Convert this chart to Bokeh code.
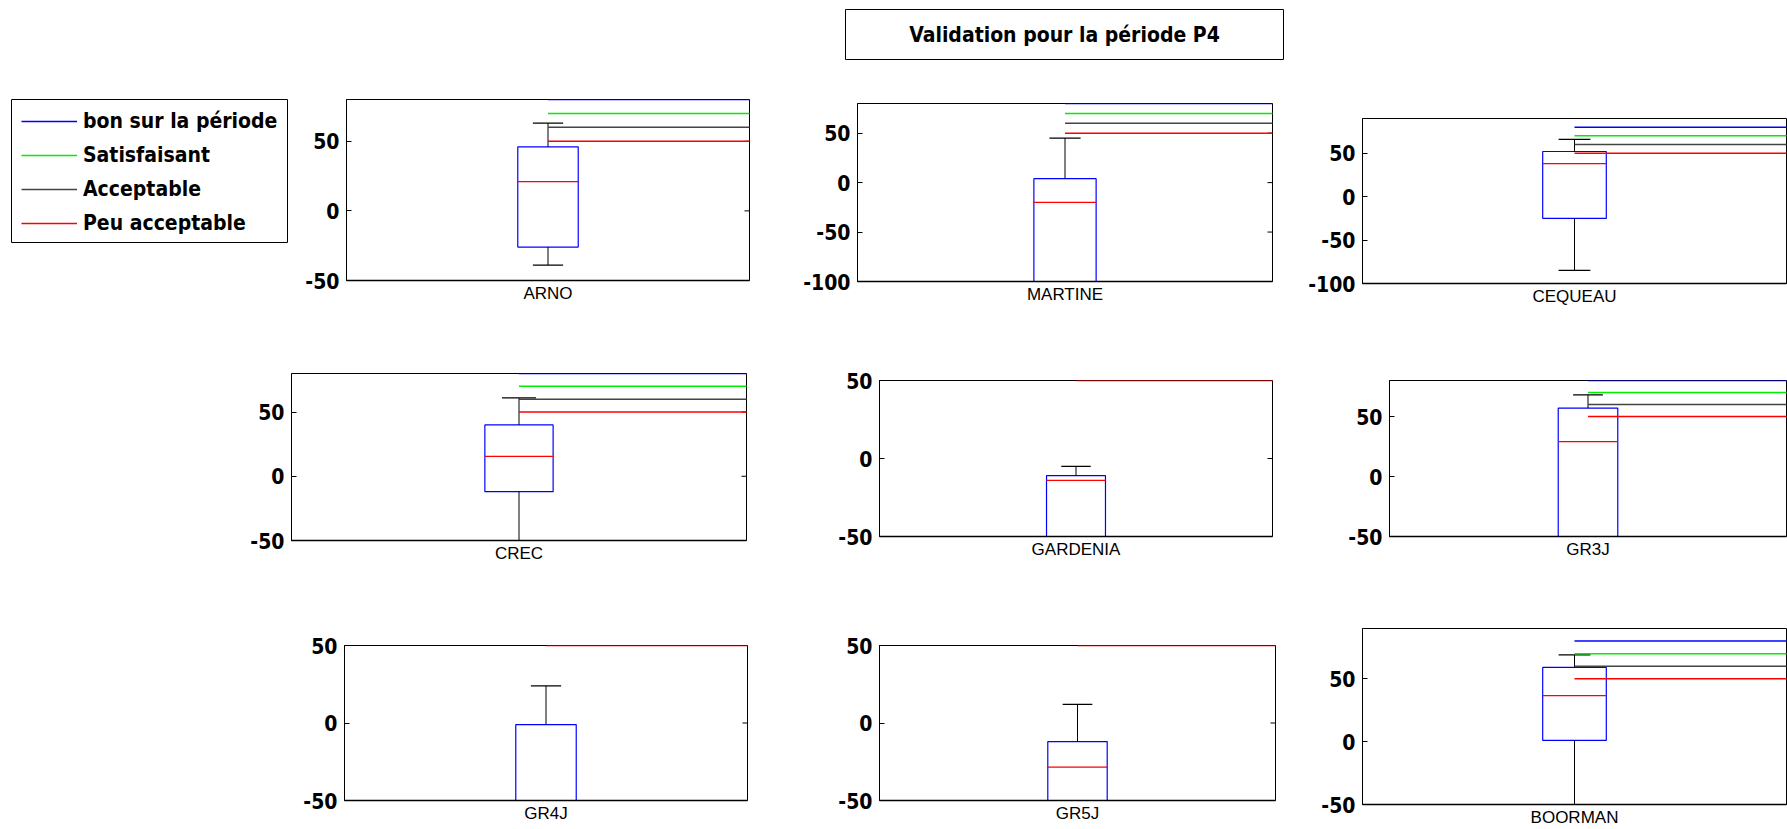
import math
from bokeh.plotting import figure
from bokeh.models import Range1d, FixedTicker, Legend, LegendItem, Label, Spacer
from bokeh.layouts import column, row
from bokeh.embed import file_html
from bokeh.resources import INLINE

# ---------------- data ----------------
TITLE = "Validation pour la période P4"
models = ["ARNO", "MARTINE", "CEQUEAU", "CREC", "GARDENIA", "GR3J", "GR4J", "GR5J", "BOORMAN"]
box_top = [46, 4, 52, 40, -11, 57, -1, -12, 59]
box_median = [21, -20, 38, 15.5, -14, 29, -60, -28.5, 36.6]
box_bottom = [-26, -130, -25, -12, -70, -70, -70, -70, 1]
whisker_hi = [63, 45, 66, 61, -5, 68, 24, 12, 69]
whisker_lo = [-39, -200, -85, -80, -100, -100, -100, -100, -80]
y_lo = [-50, -100, -100, -50, -50, -50, -50, -50, -50]
y_hi = [80, 80, 90, 80, 50, 80, 50, 50, 90]
y_ticks = [[-50, 0, 50], [-100, -50, 0, 50], [-100, -50, 0, 50],
           [-50, 0, 50], [-50, 0, 50], [-50, 0, 50],
           [-50, 0, 50], [-50, 0, 50], [-50, 0, 50]]
thr_values = [80, 70, 60, 50]
thr_labels = ["bon sur la période", "Satisfaisant", "Acceptable", "Peu acceptable"]
thr_colors = ["#0000ff", "#00ee00", "#444444", "#ff0000"]

BOLD_FONT = "DejaVu Sans Condensed"
LABEL_FONT = "Liberation Sans"

BOX_X = 1.0
BOX_HALF = 0.075
CAP_HALF = 0.0375

# canvas geometry per panel: width, height, left, right, top, bottom borders
geom = [
    (510, 270, 56, 51, 29, 60),
    (505, 270, 56, 33, 33, 59),
    (482, 270, 56, 1, 48, 57),
    (588, 268, 56, 77, 33, 68),
    (510, 268, 56, 61, 40, 72),
    (454, 268, 56, 1, 40, 72),
    (535, 221, 56, 76, 37, 29),
    (483, 221, 56, 31, 37, 29),
    (481, 221, 56, 1, 20, 24),
]
right_col = [False, False, True] * 3


def panel(i):
    w, h, L, R, T, B = geom[i]
    p = figure(width=w, height=h, title=None, toolbar_location=None, output_backend="svg",
               x_range=Range1d(0.5, 1.5), y_range=Range1d(y_lo[i], y_hi[i]),
               min_border_left=L, min_border_right=R, min_border_top=T, min_border_bottom=B)
    p.grid.visible = False
    p.outline_line_color = "black"
    p.outline_line_width = 1
    p.background_fill_color = "white"
    p.border_fill_color = "white"

    xa = p.xaxis[0]
    xa.ticker = FixedTicker(ticks=[BOX_X])
    xa.major_label_overrides = {1: models[i]}
    xa.major_tick_in = 0
    xa.major_tick_out = 0
    xa.minor_tick_in = 0
    xa.minor_tick_out = 0
    xa.major_label_text_font = LABEL_FONT
    xa.major_label_text_font_size = "17px"
    xa.major_label_text_color = "black"
    xa.major_label_standoff = 3
    xa.axis_line_color = "black"
    xa.axis_line_width = 1.5

    ya = p.yaxis[0]
    ya.ticker = FixedTicker(ticks=y_ticks[i])
    ya.major_label_overrides = {t: ("-%d" % abs(t) if t < 0 else "%d" % t) for t in y_ticks[i]}
    ya.major_tick_in = 5
    ya.major_tick_out = 0
    ya.minor_tick_in = 0
    ya.minor_tick_out = 0
    ya.major_label_text_font = BOLD_FONT
    ya.major_label_text_font_style = "bold"
    ya.major_label_text_font_size = "21px"
    ya.major_label_text_color = "black"
    ya.major_label_standoff = 7
    ya.axis_line_color = "black"
    ya.axis_line_width = 1

    # inward ticks on the right edge of the frame
    if not right_col[i]:
        p.ray(x=[p.x_range.end] * len(y_ticks[i]), y=y_ticks[i], angle=math.pi,
              length=5, length_units="screen", line_color="black", line_width=1)

    # box
    p.quad(left=[BOX_X - BOX_HALF], right=[BOX_X + BOX_HALF],
           bottom=[box_bottom[i]], top=[box_top[i]],
           fill_alpha=0, line_color="#0000ff", line_width=1.2)
    # whiskers
    p.segment(x0=[BOX_X, BOX_X], y0=[box_top[i], box_bottom[i]],
              x1=[BOX_X, BOX_X], y1=[whisker_hi[i], whisker_lo[i]],
              line_color="black", line_width=1)
    p.segment(x0=[BOX_X - CAP_HALF] * 2, y0=[whisker_hi[i], whisker_lo[i]],
              x1=[BOX_X + CAP_HALF] * 2, y1=[whisker_hi[i], whisker_lo[i]],
              line_color="black", line_width=1.2)
    # median
    p.segment(x0=[BOX_X - BOX_HALF], y0=[box_median[i]], x1=[BOX_X + BOX_HALF], y1=[box_median[i]],
              line_color="#ff0000", line_width=1.2)
    # thresholds
    for v, c in zip(thr_values, thr_colors):
        p.ray(x=[BOX_X], y=[v], angle=0, length=0, line_color=c, line_width=1.5)
    return p


def slot(fig, top, band_h):
    kids = []
    if top > 0:
        kids.append(Spacer(width=fig.width, height=top))
    kids.append(fig)
    rest = band_h - top - fig.height
    if rest > 0:
        kids.append(Spacer(width=fig.width, height=rest))
    return column(*kids)


# title box
tf = figure(width=440, height=52, title=None, toolbar_location=None, output_backend="svg",
            x_axis_type=None, y_axis_type=None, x_range=Range1d(0, 1), y_range=Range1d(0, 1),
            min_border=1)
tf.grid.visible = False
tf.outline_line_color = "black"
tf.add_layout(Label(x=0.5, y=0.5, text=TITLE, text_align="center", text_baseline="middle",
                    text_font=BOLD_FONT, text_font_style="bold", text_font_size="21px",
                    text_color="black"))

# legend box
lg = figure(width=282, height=149, title=None, toolbar_location=None, output_backend="svg",
            x_axis_type=None, y_axis_type=None, x_range=Range1d(0, 1), y_range=Range1d(0, 1),
            min_border_left=3, min_border_right=3, min_border_top=3, min_border_bottom=3)
lg.grid.visible = False
lg.outline_line_color = "black"
items = []
for lab, col, v in zip(thr_labels, thr_colors, thr_values):
    # line kept outside the visible range: only its legend sample is shown
    r = lg.line(x=[5, 6], y=[v, v], line_color=col, line_width=1.5)
    items.append(LegendItem(label=lab, renderers=[r]))
leg = Legend(items=items, location="top_left", margin=6, padding=4, spacing=10,
             glyph_width=56, glyph_height=24, label_height=24, label_standoff=6,
             label_text_font=BOLD_FONT, label_text_font_style="bold",
             label_text_font_size="21px", label_text_color="black",
             border_line_alpha=0, background_fill_alpha=0)
lg.add_layout(leg)

panels = [panel(i) for i in range(9)]

band0 = row(Spacer(width=844, height=62), slot(tf, 0, 62))
band1 = row(Spacer(width=8, height=270), slot(lg, 26, 270), slot(panels[0], 0, 270),
            slot(panels[1], 0, 270), slot(panels[2], 0, 270))
band2 = row(Spacer(width=235, height=268), slot(panels[3], 0, 268), slot(panels[4], 0, 268),
            slot(panels[5], 0, 268))
band3 = row(Spacer(width=288, height=221), slot(panels[6], 0, 221), slot(panels[7], 0, 221),
            slot(panels[8], 0, 221))
layout = column(Spacer(width=10, height=8), band0, band1, band2, band3)

open("out.html", "w").write(file_html(layout, INLINE))
